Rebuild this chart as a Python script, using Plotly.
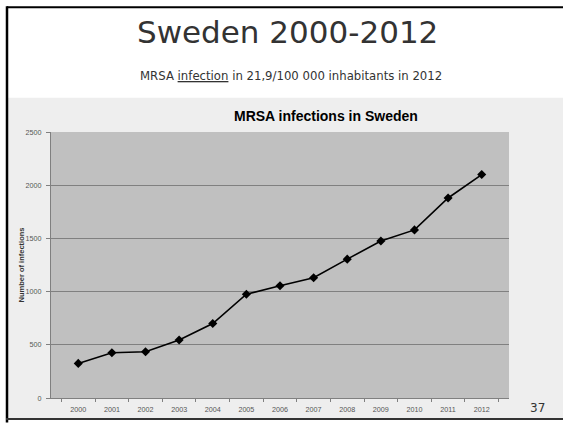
import plotly.graph_objects as go

# MRSA infections reported in Sweden, by year
years = ["2000", "2001", "2002", "2003", "2004", "2005", "2006",
         "2007", "2008", "2009", "2010", "2011", "2012"]
infections = [325, 425, 435, 545, 700, 975, 1055, 1130, 1305, 1475, 1580, 1880, 2100]
y_ticks = [0, 500, 1000, 1500, 2000, 2500]

W, H = 563, 426
L, R, T, B = 51, 509, 132, 403  # plot area in pixels


def px(x):
    return (x - L) / (R - L)


def py(y):
    return (B - y) / (B - T)


fig = go.Figure()
fig.add_trace(go.Scatter(
    x=years, y=infections, mode="lines+markers",
    line=dict(color="#000000", width=1.6),
    marker=dict(symbol="diamond", size=7, color="#000000"),
    showlegend=False, hoverinfo="x+y",
))

shapes = [
    # chart area
    dict(type="rect", xref="paper", yref="paper", layer="below",
         x0=px(7), x1=px(W + 2), y0=py(424), y1=py(97),
         fillcolor="#eeeeee", line=dict(width=0)),
    # plot area
    dict(type="rect", xref="x domain", yref="y domain", layer="below",
         x0=0, x1=1, y0=0, y1=1, fillcolor="#c0c0c0", line=dict(width=0)),
    # slide frame
    dict(type="line", xref="paper", yref="paper", x0=px(7), x1=px(W + 2),
         y0=py(5), y1=py(5), line=dict(color="#000000", width=2)),
    dict(type="line", xref="paper", yref="paper", x0=px(7), x1=px(7),
         y0=py(4), y1=py(H + 2), line=dict(color="#000000", width=2.5)),
    dict(type="line", xref="paper", yref="paper", x0=px(6), x1=px(W + 2),
         y0=py(424.5), y1=py(424.5), line=dict(color="#333333", width=2)),
]

annotations = [
    dict(text="Sweden 2000-2012", x=px(287), y=py(30), xref="paper", yref="paper",
         showarrow=False, xanchor="center", yanchor="middle",
         font=dict(family="DejaVu Sans", size=31, color="#333333")),
    dict(text="MRSA <u>infection</u> in 21,9/100 000 inhabitants in 2012",
         x=px(291), y=py(74), xref="paper", yref="paper",
         showarrow=False, xanchor="center", yanchor="middle",
         font=dict(family="DejaVu Sans Condensed", size=13, color="#333333")),
    dict(text="<b>MRSA infections in Sweden</b>", x=px(326), y=py(116),
         xref="paper", yref="paper", showarrow=False,
         xanchor="center", yanchor="middle",
         font=dict(family="Liberation Sans, Arial", size=14, color="#000000")),
    dict(text="<b>Number of infections</b>", x=px(21), y=py(268),
         xref="paper", yref="paper", showarrow=False, textangle=-90,
         xanchor="center", yanchor="middle",
         font=dict(family="Liberation Sans, Arial", size=7.5, color="#333333")),
    dict(text="37", x=px(537), y=py(413), xref="paper", yref="paper",
         showarrow=False, xanchor="center", yanchor="middle",
         font=dict(family="DejaVu Sans", size=12, color="#333333")),
]

fig.update_layout(
    width=W, height=H,
    margin=dict(l=L, r=W - R, t=T, b=H - B, pad=0),
    paper_bgcolor="#ffffff",
    plot_bgcolor="rgba(0,0,0,0)",
    shapes=shapes,
    annotations=annotations,
    xaxis=dict(
        type="category", showgrid=False, showline=True, linecolor="#808080",
        linewidth=1, ticks="outside", tickson="boundaries", ticklen=3,
        tickcolor="#808080", ticklabelstandoff=4,
        tickfont=dict(family="Liberation Sans, Arial", size=7.2, color="#555555"),
        zeroline=False, fixedrange=True,
    ),
    yaxis=dict(
        range=[0, 2500], tickvals=y_ticks, showgrid=True, gridcolor="#808080",
        gridwidth=1.2, showline=True, linecolor="#808080", linewidth=1,
        ticks="outside", ticklen=4, tickcolor="#808080", ticklabelstandoff=3,
        tickfont=dict(family="Liberation Sans, Arial", size=7.2, color="#555555"),
        zeroline=False, fixedrange=True,
    ),
)

fig.write_html("out.html")
